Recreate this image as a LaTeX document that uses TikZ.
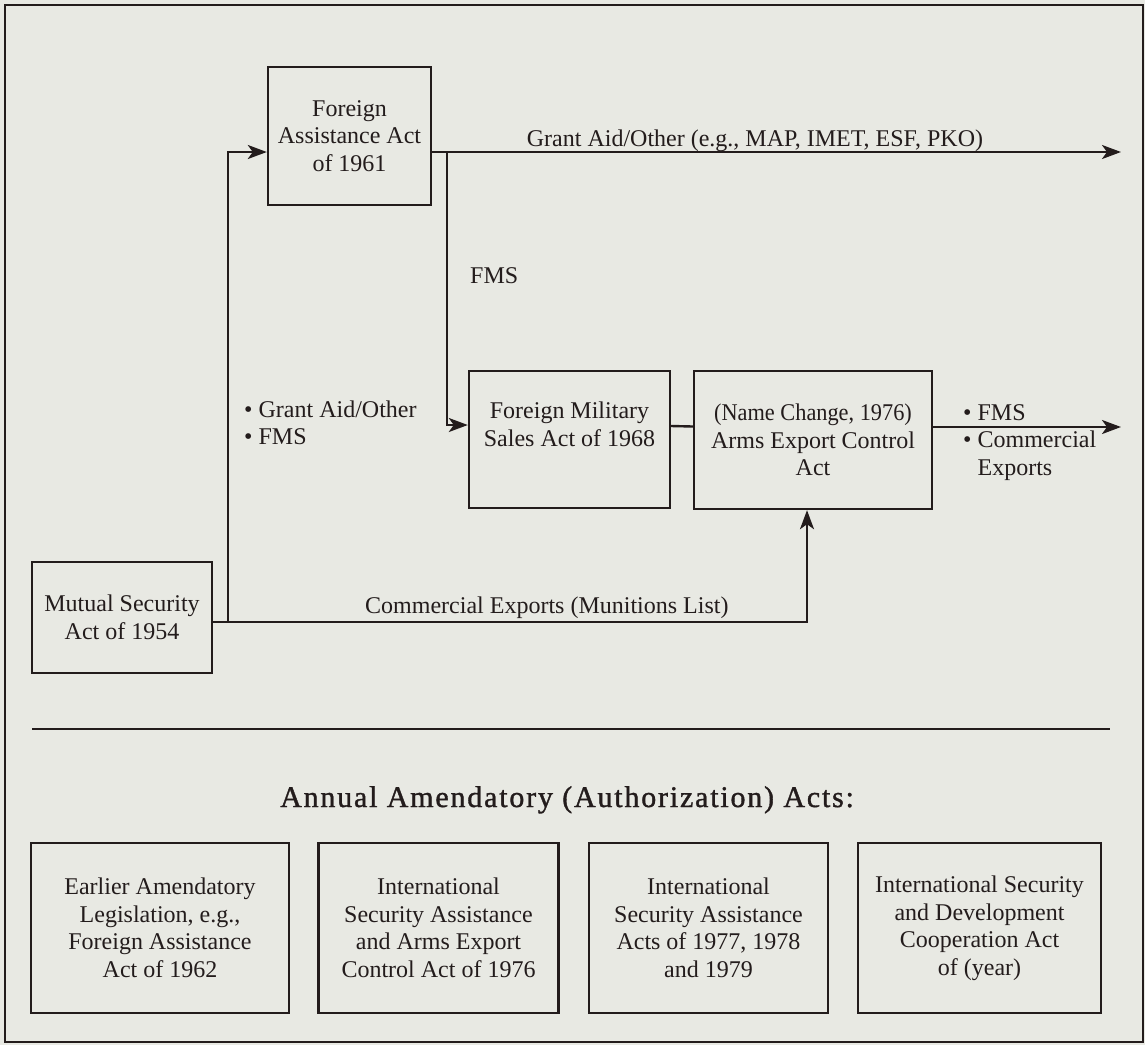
\documentclass[tikz,border=0pt]{standalone}
\usepackage{fontspec}
\setmainfont{Liberation Serif}
\newfontfamily\titlefont[LetterSpace=6.0,FakeBold=1.2]{Liberation Serif}
\usetikzlibrary{arrows.meta}
\definecolor{paper}{RGB}{232,233,227}
\definecolor{ink}{RGB}{35,28,28}
\begin{document}
\begin{tikzpicture}[x=1pt,y=-1pt,
  every node/.style={text=ink, font=\fontsize{24}{27.5}\selectfont},
  actbox/.style={draw=ink, line width=2.4pt, inner sep=0pt, align=center},
  link/.style={draw=ink, line width=2.4pt},
  flow/.style={link, -{Stealth[length=19pt,width=14pt,inset=5pt]}},
  tag/.style={inner sep=0pt, align=left},
]
% paper and outer frame
\fill[paper] (0,0) rectangle (1145,1045);
\useasboundingbox (0,0) rectangle (1145,1045);
\draw[ink, line width=1.6pt] (5,5) rectangle (1143,1042);

% legislation boxes of the upper chart
\node[actbox, minimum width=163pt, minimum height=138pt] (faa) at (349.5,136)
  {Foreign\\Assistance Act\\of 1961};
\node[actbox, minimum width=201pt, minimum height=137pt] (fmsa) at (569.5,439.5) {};
\node[inner sep=0pt, align=center] (fmsatext) at ([yshift=15pt]fmsa.center)
  {Foreign Military\\Sales Act of 1968};
\node[actbox, minimum width=238pt, minimum height=138pt] (aeca) at (813,440)
  {\scalebox{0.93}[1]{(Name Change, 1976)}\\Arms Export Control\\Act};
\node[actbox, minimum width=180pt, minimum height=111pt] (msa) at (122,617.5)
  {Mutual Security\\Act of 1954};

% bend points and free arrow ends
\coordinate (split) at (228,622);
\coordinate (fmsdrop) at (447,152);
\coordinate (ceturn) at (807,622);
\coordinate (granttip) at (1121,152);
\coordinate (outtip) at (1121,427);

% connectors
\draw[flow] ([yshift=-4.5pt]msa.east) -| (ceturn |- aeca.south);
\draw[flow] (split) |- ([yshift=-16pt]faa.west);
\draw[flow] ([yshift=-16pt]faa.east) -- (granttip);
\draw[flow] (fmsdrop) |- ([yshift=14.5pt]fmsa.west);
\draw[link] ([yshift=13.5pt]fmsa.east) -- ([yshift=13.5pt]aeca.west);
\draw[flow] ([yshift=13pt]aeca.east) -- (outtip);

% connector labels
\node[inner sep=0pt, anchor=base] (grantlbl) at (755,146)
  {Grant Aid/Other (e.g., MAP, IMET, ESF, PKO)};
\node[inner sep=0pt, anchor=base west] (fmslbl) at (470,283) {FMS};
\node[tag, anchor=north west] (msalbl) at (244,400.5)
  {\textbullet\ Grant Aid/Other\\\textbullet\ FMS};
\node[tag, anchor=north west] (outlbl) at (963,404)
  {\textbullet\ FMS\\\textbullet\ Commercial\\\phantom{\textbullet\ }Exports};
\node[inner sep=0pt, anchor=base west] (celbl) at (365,613)
  {Commercial Exports (Munitions List)};

% divider
\coordinate (divl) at (32,729);
\coordinate (divr) at (1110,729);
\draw[link] (divl) -- (divr);

% annual amendatory acts
\node[inner sep=0pt, anchor=base west, font=\titlefont\fontsize{30}{34}\selectfont] (title) at (280,807)
  {Annual Amendatory (Authorization) Acts:};
\node[actbox, minimum width=258pt, minimum height=170pt] (amd1) at (160,928)
  {Earlier Amendatory\\Legislation, e.g.,\\Foreign Assistance\\Act of 1962};
\node[actbox, minimum width=240pt, minimum height=170pt] (amd2) at (438.5,928)
  {International\\Security Assistance\\and Arms Export\\Control Act of 1976};
\node[actbox, minimum width=239pt, minimum height=170pt] (amd3) at (708.5,928)
  {International\\Security Assistance\\Acts of 1977, 1978\\and 1979};
\node[actbox, minimum width=243pt, minimum height=170pt] (amd4) at (979.5,928)
  {International Security\\and Development\\Cooperation Act\\of (year)};
\end{tikzpicture}
\end{document}
